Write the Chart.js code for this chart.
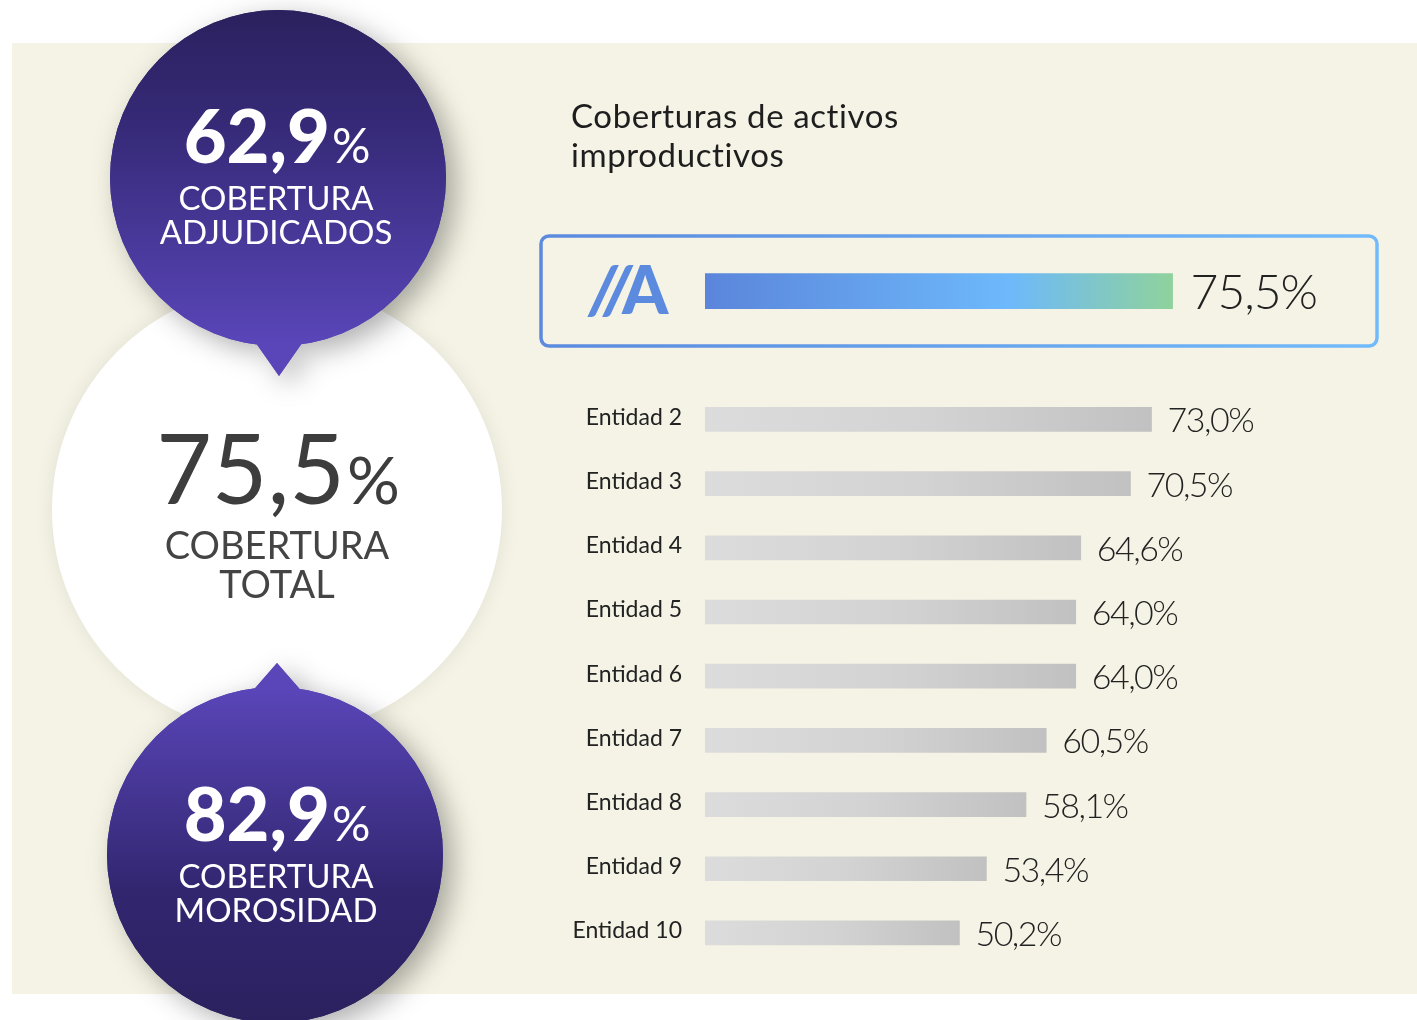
<!DOCTYPE html>
<html><head><meta charset="utf-8">
<script src="https://cdn.jsdelivr.net/npm/chart.js@4.4.0/dist/chart.umd.min.js"></script>
<style>html,body{margin:0;padding:0;background:#fff;}canvas{display:block;}</style>
</head><body>
<canvas id="c" width="1417" height="1020"></canvas>
<script>
const categories = ["//A", "", "Entidad 2", "Entidad 3", "Entidad 4", "Entidad 5", "Entidad 6", "Entidad 7", "Entidad 8", "Entidad 9", "Entidad 10"];
const ownValues = [75.5, null, null, null, null, null, null, null, null, null, null];
const peerValues = [null, null, 73.0, 70.5, 64.6, 64.0, 64.0, 60.5, 58.1, 53.4, 50.2];
const valueLabels = ["75,5%", "", "73,0%", "70,5%", "64,6%", "64,0%", "64,0%", "60,5%", "58,1%", "53,4%", "50,2%"];
const titleLines = ["Coberturas de activos", "improductivos"];
const bubbles = [
  {num: "62,9", lines: ["COBERTURA", "ADJUDICADOS"]},
  {num: "75,5", lines: ["COBERTURA", "TOTAL"]},
  {num: "82,9", lines: ["COBERTURA", "MOROSIDAD"]}
];
const AXIS_MIN = 20, AXIS_MAX = 100;

function barGradient(ctx, stops) {
  const chart = ctx.chart;
  if (!chart.chartArea || ctx.raw == null) return stops[0][1];
  const xs = chart.scales.x;
  const x0 = xs.getPixelForValue(AXIS_MIN), x1 = xs.getPixelForValue(ctx.raw);
  const g = chart.ctx.createLinearGradient(x0, 0, x1, 0);
  stops.forEach(s => g.addColorStop(s[0], s[1]));
  return g;
}

function drawBubble(c, cx, cy, r, tipX, tipY, baseY, halfW, topDark) {
  const g = c.createLinearGradient(0, cy - r, 0, cy + r);
  if (topDark) { g.addColorStop(0, '#2b215e'); g.addColorStop(0.35, '#362a78'); g.addColorStop(1, '#5a46b9'); }
  else { g.addColorStop(0, '#5a46b9'); g.addColorStop(0.6, '#322670'); g.addColorStop(1, '#2b215e'); }
  c.save();
  c.shadowColor = 'rgba(0,0,0,0.32)';
  c.shadowBlur = 28; c.shadowOffsetX = 10; c.shadowOffsetY = 8;
  c.fillStyle = g;
  c.beginPath();
  c.arc(cx, cy, r, 0, Math.PI * 2);
  c.closePath();
  c.moveTo(tipX - halfW, baseY);
  c.lineTo(tipX, tipY);
  c.lineTo(tipX + halfW, baseY);
  c.closePath();
  c.fill('evenodd' === 'x' ? 'evenodd' : 'nonzero');
  c.restore();
  // redraw triangle without shadow to ensure solid union
  c.save();
  c.fillStyle = g;
  c.beginPath();
  c.moveTo(tipX - halfW, baseY);
  c.lineTo(tipX, tipY);
  c.lineTo(tipX + halfW, baseY);
  c.closePath();
  c.fill();
  c.beginPath();
  c.arc(cx, cy, r, 0, Math.PI * 2);
  c.fill();
  c.restore();
}

function drawNumber(c, cx, baseline, num, bigFont, pctFont, color) {
  c.fillStyle = color;
  c.textBaseline = 'alphabetic';
  c.textAlign = 'left';
  c.font = bigFont; const w1 = c.measureText(num).width;
  c.font = pctFont; const w2 = c.measureText('%').width;
  const x = cx - (w1 + w2) / 2;
  c.font = bigFont; c.fillText(num, x, baseline);
  c.font = pctFont; c.fillText('%', x + w1 + 2, baseline);
}

const backdrop = {
  id: 'backdrop',
  beforeDraw(chart) {
    const c = chart.ctx;
    c.save();
    c.fillStyle = '#ffffff'; c.fillRect(0, 0, 1417, 1020);
    c.fillStyle = '#f5f3e5'; c.fillRect(12, 43, 1405, 951);
    // white middle circle
    c.save();
    c.shadowColor = 'rgba(0,0,0,0.08)'; c.shadowBlur = 20;
    c.fillStyle = '#ffffff';
    c.beginPath(); c.arc(277, 510, 225, 0, Math.PI * 2); c.fill();
    c.restore();
    drawBubble(c, 278, 178, 168, 279, 376, 336, 28, true);
    drawBubble(c, 275, 855, 168, 277, 663, 694, 27, false);
    // bubble texts
    drawNumber(c, 276, 163, bubbles[0].num, '900 74px Lato', '400 48px Lato', '#ffffff');
    c.textAlign = 'center'; c.font = '400 33px Lato'; c.fillStyle = '#ffffff';
    c.fillText(bubbles[0].lines[0], 276, 210);
    c.fillText(bubbles[0].lines[1], 276, 244);
    drawNumber(c, 277, 504, bubbles[1].num, '400 96px Lato', '400 66px Lato', '#3d3d3d');
    c.textAlign = 'center'; c.font = '400 38px Lato'; c.fillStyle = '#444444';
    c.fillText(bubbles[1].lines[0], 277, 559);
    c.fillText(bubbles[1].lines[1], 277, 598);
    drawNumber(c, 276, 841, bubbles[2].num, '900 74px Lato', '400 48px Lato', '#ffffff');
    c.textAlign = 'center'; c.font = '400 33px Lato'; c.fillStyle = '#ffffff';
    c.fillText(bubbles[2].lines[0], 276, 888);
    c.fillText(bubbles[2].lines[1], 276, 922);
    // title
    c.textAlign = 'left'; c.fillStyle = '#1e1e1e'; c.font = '400 33px Lato';
    c.letterSpacing = '0.6px';
    c.fillText(titleLines[0], 571, 128);
    c.fillText(titleLines[1], 571, 167);
    c.letterSpacing = '0px';
    // highlight box
    const bg = c.createLinearGradient(540, 0, 1378, 0);
    bg.addColorStop(0, '#5b8ade'); bg.addColorStop(1, '#72bbfb');
    c.strokeStyle = bg; c.lineWidth = 3.5;
    c.beginPath(); c.roundRect(541, 236, 836, 110, 8); c.stroke();
    c.restore();
  },
  afterDatasetsDraw(chart) {
    const c = chart.ctx;
    const ys = chart.scales.y;
    c.save();
    c.textBaseline = 'middle';
    categories.forEach((lab, i) => {
      const y = ys.getPixelForValue(i);
      if (i === 0) {
        c.fillStyle = '#5b8ade';
        c.textAlign = 'right';
        c.font = 'italic 900 66px Lato';
        c.fillText(lab.slice(0, 2), 632, y + 2);
        c.font = '900 66px Lato';
        c.textAlign = 'left';
        c.fillText(lab.slice(2), 622, y + 2);
      } else if (lab) {
        c.textAlign = 'right'; c.fillStyle = '#222222'; c.font = '400 23px Lato';
        c.fillText(lab, 682, y - 2);
      }
    });
    [0, 1].forEach(di => {
      const meta = chart.getDatasetMeta(di);
      meta.data.forEach((el, i) => {
        const v = chart.data.datasets[di].data[i];
        if (v == null) return;
        c.textAlign = 'left'; c.fillStyle = '#222222';
        c.font = di === 0 ? '300 48px Lato' : '300 34px Lato';
        c.letterSpacing = di === 0 ? '-1px' : '-1.5px';
        c.fillText(valueLabels[i], el.x + (di === 0 ? 18 : 16), el.y + 2);
      });
    });
    c.letterSpacing = '0px';
    c.restore();
  }
};

new Chart(document.getElementById('c'), {
  type: 'bar',
  data: {
    labels: categories,
    datasets: [
      { data: ownValues, grouped: false, barThickness: 35, borderWidth: 0,
        backgroundColor: ctx => barGradient(ctx, [[0, '#5b85db'], [0.65, '#6db9fb'], [1, '#8fd29c']]) },
      { data: peerValues, grouped: false, barThickness: 24, borderWidth: 0,
        backgroundColor: ctx => barGradient(ctx, [[0, '#dcdcdc'], [0.5, '#d3d3d3'], [1, '#c1c1c1']]) }
    ]
  },
  options: {
    indexAxis: 'y',
    responsive: false,
    animation: false,
    devicePixelRatio: 1,
    layout: { padding: { left: 705, right: 38, top: 259, bottom: 55 } },
    plugins: { legend: { display: false }, tooltip: { enabled: false } },
    scales: {
      x: { display: false, min: AXIS_MIN, max: AXIS_MAX, grid: { display: false } },
      y: { display: false, grid: { display: false } }
    }
  },
  plugins: [backdrop]
});
</script>
</body></html>
